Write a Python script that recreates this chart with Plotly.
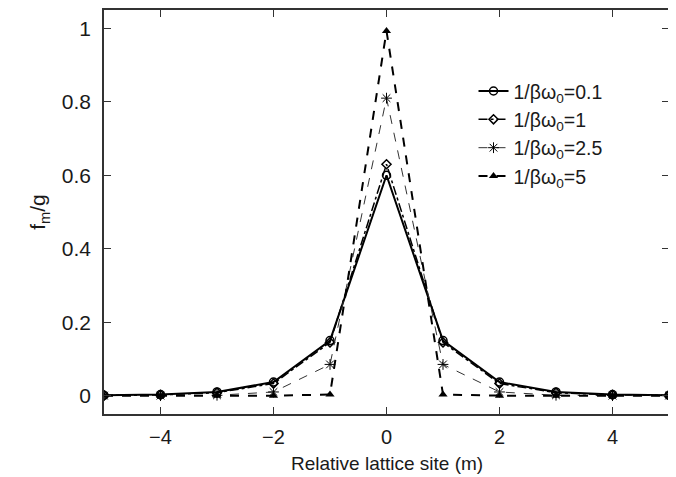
import plotly.graph_objects as go

m = [-5, -4, -3, -2, -1, 0, 1, 2, 3, 4, 5]
f_01 = [0.001, 0.003, 0.010, 0.037, 0.150, 0.600, 0.150, 0.037, 0.010, 0.003, 0.001]
f_1 = [0.0005, 0.002, 0.008, 0.033, 0.145, 0.630, 0.145, 0.033, 0.008, 0.002, 0.0005]
f_25 = [0.0, 0.0, 0.001, 0.010, 0.085, 0.810, 0.085, 0.010, 0.001, 0.0, 0.0]
f_5 = [0.0, 0.0, 0.0, 0.0, 0.003, 0.993, 0.003, 0.0, 0.0, 0.0, 0.0]
names = ["1/βω<sub>0</sub>=0.1", "1/βω<sub>0</sub>=1", "1/βω<sub>0</sub>=2.5", "1/βω<sub>0</sub>=5"]
x_ticks = [-4, -2, 0, 2, 4]
y_ticks = [0, 0.2, 0.4, 0.6, 0.8, 1]
x_title = "Relative lattice site (m)"
y_title = "f<sub>m</sub>/g"

FONT = "Liberation Sans, Arial, sans-serif"
TXT = "#1a1a1a"
fig = go.Figure()
fig.add_trace(go.Scatter(x=m, y=f_01, name=names[0], mode="lines+markers",
                         line=dict(color="black", width=2, dash="solid"),
                         marker=dict(symbol="circle-open", size=8, color="black", line=dict(width=1.5))))
fig.add_trace(go.Scatter(x=m, y=f_1, name=names[1], mode="lines+markers",
                         line=dict(color="black", width=1.5, dash="dashdot"),
                         marker=dict(symbol="diamond-open", size=7, color="black", line=dict(width=1.5))))
fig.add_trace(go.Scatter(x=m, y=f_25, name=names[2], mode="lines+markers",
                         line=dict(color="#333333", width=1, dash="dash"),
                         marker=dict(symbol="asterisk-open", size=9, color="black", line=dict(width=1))))
fig.add_trace(go.Scatter(x=m, y=f_5, name=names[3], mode="lines+markers",
                         line=dict(color="black", width=2, dash="dash"),
                         marker=dict(symbol="triangle-up", size=8, color="black")))

axis_common = dict(showline=True, linecolor="#333333", linewidth=1.5, mirror="ticks",
                   ticks="inside", ticklen=7, tickwidth=1, tickcolor="#333333",
                   showgrid=False, zeroline=False, automargin=False)
fig.update_xaxes(range=[-5, 5], tickvals=x_ticks, ticktext=["−4", "−2", "0", "2", "4"],
                 ticklabelstandoff=4, tickfont=dict(family=FONT, size=20, color=TXT),
                 **axis_common)
fig.update_yaxes(range=[-0.05, 1.05], tickvals=y_ticks, ticktext=["0", "0.2", "0.4", "0.6", "0.8", "1"],
                 ticklabelstandoff=7, tickfont=dict(family=FONT, size=21, color=TXT),
                 title=dict(text=y_title, font=dict(family=FONT, size=21, color=TXT), standoff=10),
                 **axis_common)
fig.add_annotation(text=x_title, xref="paper", yref="paper", x=0.5, y=-0.1535,
                   xanchor="center", yanchor="bottom", showarrow=False,
                   font=dict(family=FONT, size=19, color=TXT))
# page body adds an 8px margin, so the figure is sized to the visible area
fig.update_layout(
    width=668, height=469,
    margin=dict(l=96, r=7, t=2, b=63),
    paper_bgcolor="white", plot_bgcolor="white",
    showlegend=True,
    legend=dict(x=0.654, y=0.847, xanchor="left", yanchor="top", bgcolor="rgba(0,0,0,0)",
                font=dict(family=FONT, size=19.5, color=TXT), itemwidth=30,
                tracegroupgap=0),
)
fig.write_html("out.html")
